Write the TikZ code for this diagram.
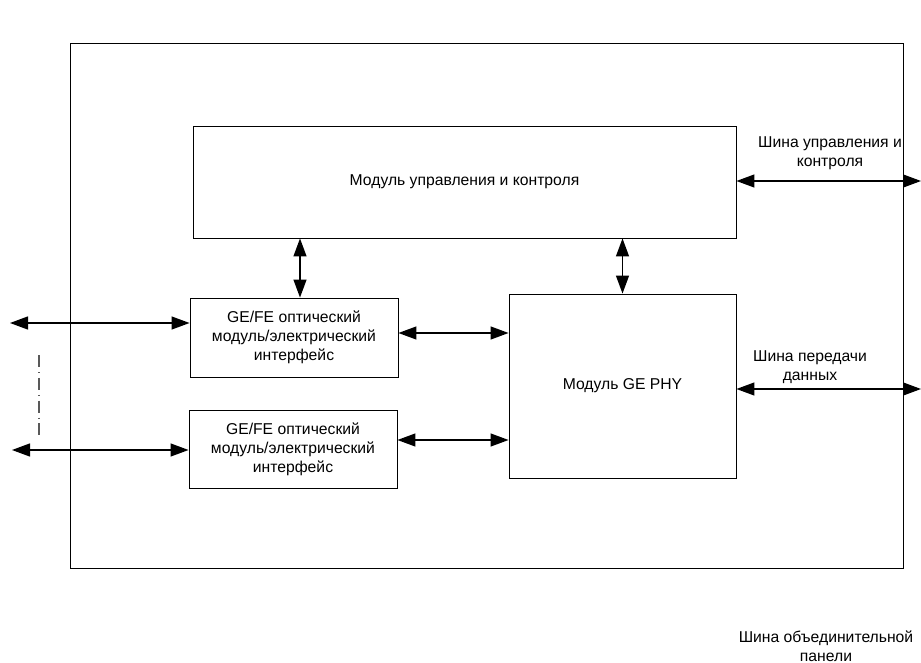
\documentclass[tikz,border=0pt]{standalone}
\usepackage{fontspec}
\setmainfont{Liberation Sans}
\usetikzlibrary{arrows.meta}
\begin{document}
\begin{tikzpicture}[x=1pt,y=-1pt,
  every node/.style={font=\fontsize{15.7}{19}\selectfont, inner sep=0pt},
  block/.style={draw, line width=0.9pt, rectangle},
  link/.style={line width=1.3pt, {Triangle[length=18pt,width=13pt]}-{Triangle[length=18pt,width=13pt]}},
  caption/.style={align=center}]
  \useasboundingbox (0,0) rectangle (921,663);

  % enclosing board
  \node[block, minimum width=833pt, minimum height=525pt] (board) at (486.5,305.5) {};

  % functional blocks
  \node[block, minimum width=543pt, minimum height=112pt] (ctrl) at (464.5,182)
    {Модуль управления и контроля};
  \node[block, minimum width=208pt, minimum height=79pt, align=center] (ge1) at (294,337.5)
    {GE/FE оптический\\модуль/электрический\\интерфейс};
  \node[block, minimum width=208pt, minimum height=78pt, align=center] (ge2) at (293,449)
    {GE/FE оптический\\модуль/электрический\\интерфейс};
  \node[block, minimum width=227pt, minimum height=184pt] (phy) at (622.5,386)
    {Модуль GE PHY};

  % free ends of the external links
  \coordinate (in1) at (10,323);
  \coordinate (in2) at (12,450);
  \coordinate (busctl) at (921,181);
  \coordinate (busdata) at (921,389);

  % internal links
  \draw[link] ([xshift=6pt]ge1.north |- ctrl.south) -- ([xshift=6pt]ge1.north);
  \draw[link] (phy.north |- ctrl.south) -- (phy.north);
  \draw[link] ([yshift=4.5pt]ge1.east) -- ([yshift=4.5pt]ge1.east -| phy.west);
  \draw[link] ([yshift=9pt]ge2.east) -- ([yshift=9pt]ge2.east -| phy.west);

  % external links
  \draw[link] (in1) -- (in1 -| ge1.west);
  \draw[link] (in2) -- (in2 -| ge2.west);
  \draw[link] (busctl -| ctrl.east) -- (busctl);
  \draw[link] (busdata -| phy.east) -- (busdata);

  % further ports between the two shown
  \coordinate (dotsA) at (39,355);
  \coordinate (dotsB) at (39,438);
  \draw[gray!70!black, line width=1.1pt, dash pattern=on 12pt off 5pt on 0.8pt off 5pt] (dotsA) -- (dotsB);

  % bus captions
  \node[caption] (capctl) at (830,153) {Шина управления и\\контроля};
  \node[caption] (capdata) at (810,367) {Шина передачи\\данных};
  \node[caption] (capback) at (826,646) {Шина объединительной\\панели};
\end{tikzpicture}
\end{document}
